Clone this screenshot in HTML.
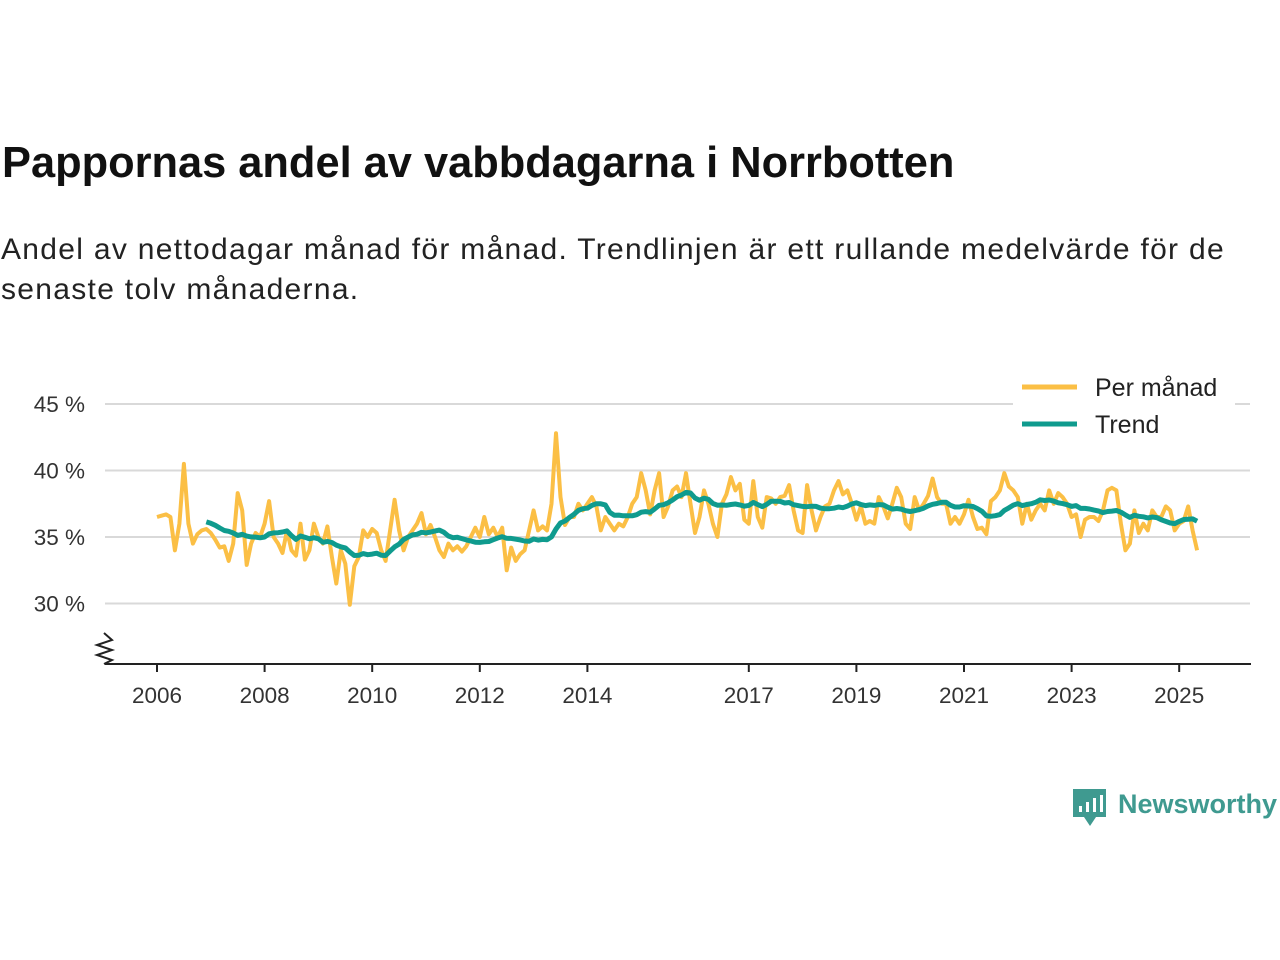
<!DOCTYPE html>
<html><head><meta charset="utf-8"><style>
body{margin:0;background:#fff;font-family:"Liberation Sans",sans-serif;}
#wrap{position:relative;width:1280px;height:960px;overflow:hidden}
h1{position:absolute;left:2px;top:139px;margin:0;font-size:43.4px;font-weight:bold;color:#111;}
p{position:absolute;left:1px;top:230px;margin:0;font-size:30px;letter-spacing:1.3px;line-height:40px;color:#222;width:1260px}
</style></head><body><div id="wrap">
<h1>Pappornas andel av vabbdagarna i Norrbotten</h1>
<p>Andel av nettodagar månad för månad. Trendlinjen är ett rullande medelvärde för de senaste tolv månaderna.</p>
<svg id="chart" width="1280" height="960" style="position:absolute;left:0;top:0"></svg>
</div>
<script>
const startYear = 2006;
const monthly = [
36.5,36.6,36.7,36.5,34.0,36.0,40.5,36.0,34.5,35.2,35.5,35.6,
35.3,34.8,34.2,34.3,33.2,34.5,38.3,37.0,32.9,34.5,35.3,35.0,
36.0,37.7,35.0,34.5,33.8,35.5,34.0,33.6,36.0,33.3,34.0,36.0,
35.0,34.5,35.8,33.5,31.5,34.0,33.0,29.9,32.8,33.5,35.5,35.0,
35.6,35.3,34.0,33.2,35.5,37.8,35.5,34.0,35.0,35.5,36.0,36.8,
35.2,35.9,35.0,34.0,33.5,34.5,34.0,34.3,33.9,34.3,35.0,35.7,
35.0,36.5,35.2,35.7,35.0,35.7,32.5,34.2,33.2,33.7,34.0,35.5,
37.0,35.5,35.8,35.5,37.5,42.8,38.0,35.9,36.5,36.5,37.5,37.0,
37.5,38.0,37.3,35.5,36.5,36.0,35.5,36.0,35.8,36.5,37.5,38.0,
39.8,38.5,36.7,38.5,39.8,36.5,37.3,38.5,38.8,38.0,39.8,37.5,
35.3,36.5,38.5,37.5,36.0,35.0,37.5,38.2,39.5,38.5,39.0,36.3,
36.0,39.2,36.5,35.7,38.0,37.9,37.5,38.0,38.1,38.9,37.0,35.5,
35.3,38.9,37.0,35.5,36.5,37.3,37.5,38.5,39.2,38.2,38.5,37.5,
36.3,37.3,36.0,36.2,36.0,38.0,37.3,36.4,37.5,38.7,38.0,36.0,
35.6,38.0,37.0,37.5,38.1,39.4,38.0,37.5,37.5,36.0,36.5,36.0,
36.7,37.8,36.5,35.6,35.7,35.2,37.7,38.0,38.5,39.8,38.8,38.5,
38.0,36.0,37.5,36.3,37.0,37.5,37.0,38.5,37.5,38.3,38.0,37.5,
36.5,36.7,35.0,36.3,36.5,36.5,36.2,37.0,38.5,38.7,38.5,36.0,
34.0,34.5,37.0,35.3,36.0,35.5,37.0,36.5,36.5,37.3,37.0,35.5,
36.0,36.2,37.3,35.5,34.0];
const yTicks = [30,35,40,45];
const xTicks = [2006,2008,2010,2012,2014,2017,2019,2021,2023,2025];

const svg = document.getElementById('chart');
const NS = 'http://www.w3.org/2000/svg';
function X(t){return 157 + (t-2006)*53.8;}
function Y(v){return 537 - (v-35)*13.3;}
function mk(tag, attrs){const e=document.createElementNS(NS,tag);for(const k in attrs)e.setAttribute(k,attrs[k]);svg.appendChild(e);return e;}

yTicks.forEach(v=>{
  const g=mk('line',{x1:105,x2:1250,y1:Y(v),y2:Y(v),stroke:'#d9d9d9','stroke-width':2});
  
  
  const t=mk('text',{x:85,y:Y(v)+8,'text-anchor':'end','font-size':22.5,fill:'#333','font-family':'Liberation Sans, sans-serif'});
  t.textContent=v+' %';
  
  
});
const ax=mk('line',{x1:105,x2:1251,y1:664,y2:664,stroke:'#222','stroke-width':2});


const zz=mk('polyline',{points:'104,633 112,640 97,645 112,650 97,655 112,660 104,664',fill:'none',stroke:'#222','stroke-width':2});


xTicks.forEach(y=>{
  const tk=mk('line',{x1:X(y),x2:X(y),y1:664,y2:672,stroke:'#222','stroke-width':2});
  
  
  const t=mk('text',{x:X(y),y:703,'text-anchor':'middle','font-size':22.5,fill:'#333','font-family':'Liberation Sans, sans-serif'});
  t.textContent=y;
  
  
});
const pts=monthly.map((v,i)=>X(startYear+i/12).toFixed(1)+','+Y(v).toFixed(1)).join(' ');
const ml=mk('polyline',{points:pts,fill:'none',stroke:'#fbbf45','stroke-width':4,'stroke-linejoin':'round'});


const tp=[];
for(let i=11;i<monthly.length;i++){let s=0;for(let j=i-11;j<=i;j++)s+=monthly[j];tp.push(X(startYear+i/12).toFixed(1)+','+Y(s/12).toFixed(1));}
const tl=mk('polyline',{points:tp.join(' '),fill:'none',stroke:'#0f9b8e','stroke-width':5,'stroke-linejoin':'round'});


const lb=mk('rect',{x:1013,y:368,width:222,height:72,fill:'#fff'});


[['Per månad','#fbbf45',387],['Trend','#0f9b8e',424]].forEach(([n,c,y])=>{
  const l=mk('line',{x1:1022,x2:1077,y1:y,y2:y,stroke:c,'stroke-width':5});
  
  
  const t=mk('text',{x:1095,y:y+9,'font-size':25,fill:'#222','font-family':'Liberation Sans, sans-serif'});
  t.textContent=n;
  
  
});
const lg=mk('path',{d:'M1073,789 h33 v28 h-10 l-6,9 l-6,-9 h-11 z',fill:'#3f9a90'});


[[1079,806],[1086,802],[1093,798],[1100,795]].forEach(([x,y])=>{
  const b=mk('rect',{x:x,y:y,width:3,height:812-y,fill:'#fff'});
  
  
});
const lt=mk('text',{x:1118,y:813,'font-size':27,'font-weight':'bold',fill:'#3f9a90','font-family':'Liberation Sans, sans-serif'});
lt.textContent='Newsworthy';


</script></body></html>
